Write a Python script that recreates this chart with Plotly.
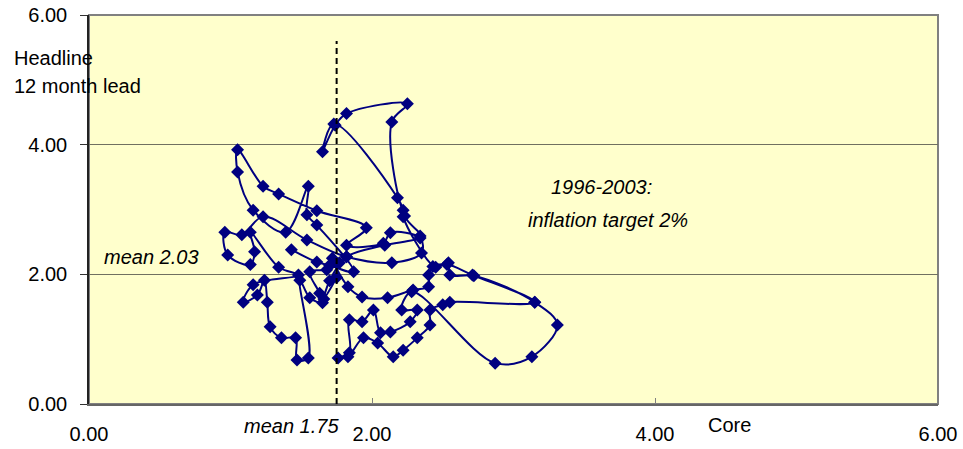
import plotly.graph_objects as go

# Core inflation (x) vs headline inflation 12 months ahead (y), monthly path
core = [
    1.43, 1.61, 1.70, 1.87, 1.61, 1.54, 1.55, 1.39, 1.16, 1.05,
    1.05, 1.23, 1.34, 1.61, 1.96, 1.82, 2.08, 2.13, 2.34, 2.35,
    2.14, 1.82, 1.54, 1.23, 1.08, 0.96, 0.98, 1.14, 1.17, 1.14,
    1.34, 1.48, 1.16, 1.09, 1.19, 1.24, 1.26, 1.28, 1.36, 1.46,
    1.47, 1.55, 1.49, 1.56, 1.65, 1.63, 1.56, 1.68, 1.77, 1.72,
    1.83, 1.93, 2.11, 2.29, 2.40, 2.40, 2.43, 2.53, 2.71, 3.15,
    2.55, 2.50, 2.41, 2.41, 2.32, 2.22, 2.15, 2.04, 1.94, 1.83,
    1.76, 1.84, 1.84, 1.93, 2.01, 2.06, 2.13, 2.27, 2.32, 2.21,
    2.28, 2.87, 3.13, 3.31, 3.15, 2.72, 2.55, 2.54, 2.45, 2.22,
    2.22, 2.18, 1.73, 1.65, 1.74, 1.82, 2.25, 2.14, 2.23, 2.34,
    2.09, 1.82, 1.70, 1.66, 1.75,
]
headline = [
    2.38, 2.19, 2.14, 2.04, 2.76, 2.92, 3.36, 2.65, 2.99, 3.58,
    3.92, 3.36, 3.24, 2.98, 2.72, 2.45, 2.48, 2.64, 2.56, 2.33,
    2.18, 2.27, 2.53, 2.89, 2.61, 2.65, 2.30, 2.15, 2.35, 2.65,
    2.11, 1.99, 1.84, 1.57, 1.68, 1.91, 1.57, 1.19, 1.02, 1.02,
    0.68, 0.71, 1.91, 1.64, 1.56, 1.71, 2.04, 2.07, 2.18, 2.25,
    1.81, 1.65, 1.64, 1.76, 1.81, 1.99, 2.12, 2.15, 1.99, 1.57,
    1.57, 1.53, 1.45, 1.22, 1.02, 0.83, 0.73, 0.94, 1.02, 0.73,
    0.71, 0.79, 1.30, 1.27, 1.45, 1.10, 1.11, 1.27, 1.45, 1.45,
    1.73, 0.63, 0.73, 1.22, 1.57, 1.98, 1.99, 2.18, 2.11, 2.89,
    2.99, 3.18, 4.32, 3.89, 4.30, 4.48, 4.63, 4.35, 2.90, 2.59,
    2.45, 2.27, 1.90, 1.62, 1.95,
]

mean_core = 1.75
mean_line_top = 5.6
mean_headline_label = "mean 2.03"
mean_core_label = "mean 1.75"

x_ticks = [0, 2, 4, 6]
y_ticks = [0, 2, 4, 6]

NAVY = "#000080"
FONT = "Liberation Sans, Arial, sans-serif"

fig = go.Figure()
fig.add_trace(go.Scatter(
    x=core, y=headline, mode="lines+markers",
    line=dict(color=NAVY, width=2, shape="spline", smoothing=1),
    marker=dict(symbol="diamond", size=10, color=NAVY, line=dict(width=0)),
    showlegend=False, hoverinfo="x+y",
))
fig.add_trace(go.Scatter(
    x=[mean_core, mean_core], y=[0, mean_line_top], mode="lines",
    line=dict(color="black", width=2, dash="6px,4px"),
    showlegend=False, hoverinfo="skip",
))

annos = [
    dict(x=-0.0907, y=0.889, xref="paper", yref="paper", text="Headline", xanchor="left"),
    dict(x=-0.0907, y=0.817, xref="paper", yref="paper", text="12 month lead", xanchor="left"),
    dict(x=0.2968, y=-0.0566, xref="paper", yref="paper", text="<i>" + mean_core_label + "</i>", xanchor="right"),
    dict(x=0.754, y=-0.054, xref="paper", yref="paper", text="Core", xanchor="center"),
    dict(x=0.44, y=2.27, xref="x", yref="y", text="<i>" + mean_headline_label + "</i>", xanchor="center"),
    dict(x=3.62, y=3.35, xref="x", yref="y", text="<i>1996-2003:</i>", xanchor="center"),
    dict(x=3.67, y=2.84, xref="x", yref="y", text="<i>inflation target 2%</i>", xanchor="center"),
]
for a in annos:
    a.update(showarrow=False, yanchor="middle", font=dict(family=FONT, size=20, color="black"))

fig.update_layout(
    width=963, height=449,
    margin=dict(l=89, r=25, t=15, b=45, pad=0, autoexpand=False),
    paper_bgcolor="white", plot_bgcolor="#FFFFCC",
    font=dict(family=FONT, size=20, color="black"),
    annotations=annos,
    shapes=[dict(type="rect", xref="x domain", yref="y domain", x0=0, x1=1, y0=0, y1=1,
                 line=dict(color="#808080", width=2), layer="below")],
    xaxis=dict(range=[0, 6], tickvals=x_ticks, tickformat=".2f", ticks="inside", ticklen=6,
               tickcolor="#808080", showgrid=False, zeroline=False, showline=True,
               linecolor="#666666", linewidth=2, ticklabelstandoff=11, fixedrange=True,
               automargin=False, ticklabeloverflow="allow"),
    yaxis=dict(range=[0, 6], tickvals=y_ticks, tickformat=".2f", ticks="outside", ticklen=7,
               tickcolor="#333333", showgrid=True, gridcolor="#707060", gridwidth=1,
               zeroline=False, showline=True, linecolor="#222222", linewidth=1.5,
               ticklabelstandoff=9, fixedrange=True, automargin=False,
               ticklabeloverflow="allow"),
)

# Remove the default page margin so the figure sits at the window's top-left corner.
fig.write_html("out.html", config={"displayModeBar": False},
               post_script="document.body.style.margin='0px';")
